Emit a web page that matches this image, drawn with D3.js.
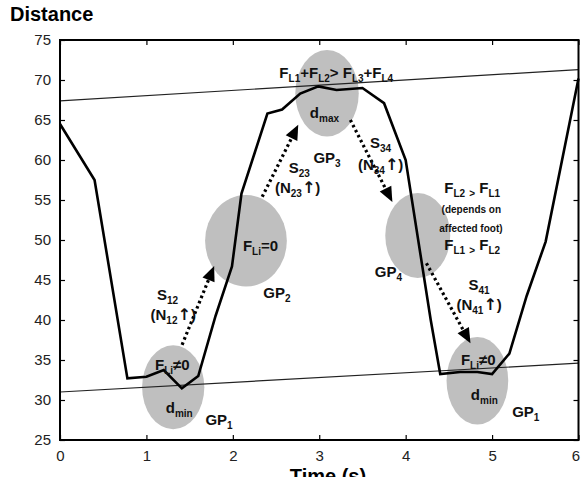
<!DOCTYPE html>
<html>
<head>
<meta charset="utf-8">
<script src="https://cdn.jsdelivr.net/npm/d3@7"></script>
<style>
  body { margin: 0; background: #fff; }
  text { font-family: "Liberation Sans", Arial, sans-serif; }
</style>
</head>
<body>
<svg id="chart" width="581" height="477"></svg>
<script>
// gait curve: distance vs time
const time     = [0, 0.4, 0.78, 1.0, 1.2, 1.41, 1.6, 1.8, 1.99, 2.1, 2.4, 2.57, 2.78, 2.99, 3.2, 3.5, 3.75, 4.0, 4.29, 4.4, 4.63, 4.83, 5.0, 5.2, 5.4, 5.62, 6.0];
const distance = [64.5, 57.5, 32.7, 32.9, 33.75, 31.45, 33.0, 40.5, 46.7, 55.8, 65.8, 66.3, 68.3, 69.2, 68.75, 69.0, 67.1, 60, 40, 33.25, 33.5, 33.5, 33.25, 35.8, 43, 49.8, 70.2];

// thresholds (thin lines)
const upperLine = [[0, 67.4], [6, 71.3]];
const lowerLine = [[0, 31.0], [6, 34.6]];

const xTicks = [0, 1, 2, 3, 4, 5, 6];
const yTicks = [25, 30, 35, 40, 45, 50, 55, 60, 65, 70, 75];

// gait phases: centre (t, d) and radii in data units
const phaseT  = [1.31, 2.152, 3.09, 4.14, 4.83];
const phaseD  = [31.6, 49.9, 68.34, 50.56, 32.4];
const phaseRT = [0.36, 0.473, 0.367, 0.376, 0.357];
const phaseRD = [5.25, 5.72, 5.41, 5.31, 5.47];

// transitions: from (t0,d0) to (t1,d1)
const arrowsFrom = [[1.413, 36.9], [2.34, 55.4], [3.36, 65.0], [4.24, 47.1]];
const arrowsTo   = [[1.784, 46.75], [2.757, 64.4], [3.846, 54.75], [4.75, 37.1]];

// annotations: text with _{sub} markup, anchored at (t, d)
const labelText = ["F_{L1}+F_{L2}> F_{L3}+F_{L4}", "d_{max}", "GP_{3}", "S_{23}", "(N_{23}\u2191)",
  "S_{34}", "(N_{34}\u2191)", "F_{L2} _{>} F_{L1}", "(depends on", "affected foot)", "F_{L1} _{>} F_{L2}",
  "S_{41}", "(N_{41}\u2191)", "GP_{4}", "F_{Li}=0", "GP_{2}", "S_{12}", "(N_{12}\u2191)",
  "F_{Li}\u22600", "d_{min}", "GP_{1}", "F_{Li}\u22600", "d_{min}", "GP_{1}"];
const labelT = [3.197, 3.06, 3.09, 2.77, 2.75, 3.71, 3.71, 4.77, 4.76, 4.755, 4.77,
  4.85, 4.85, 3.8, 2.32, 2.51, 1.245, 1.31, 1.30, 1.38, 1.84, 4.84, 4.91, 5.39];
const labelD = [70.9, 65.9, 60.25, 59, 56.5, 62.1, 59.4, 56.5, 54, 51.6, 49.4,
  44.4, 41.9, 46, 49.2, 43.4, 43.1, 40.6, 34.4, 29, 27.5, 35, 30.6, 28.5];

const svg = d3.select("#chart");
const mLeft = 60, mRight = 578.5, mTop = 40, mBottom = 440;

const x = d3.scaleLinear().domain([0, 6]).range([mLeft, mRight]);
const y = d3.scaleLinear().domain([25, 75]).range([mBottom, mTop]);

// phase ellipses
svg.append("g").selectAll("ellipse")
  .data(phaseT)
  .enter().append("ellipse")
  .attr("cx", (d, i) => x(d))
  .attr("cy", (d, i) => y(phaseD[i]))
  .attr("rx", (d, i) => x(d + phaseRT[i]) - x(d))
  .attr("ry", (d, i) => y(phaseD[i] - phaseRD[i]) - y(phaseD[i]))
  .attr("fill", "#bfbfbf");

// thin threshold lines
const line = d3.line().x(d => x(d[0])).y(d => y(d[1]));
[upperLine, lowerLine].forEach(l => {
  svg.append("path").attr("d", line(l))
    .attr("fill", "none").attr("stroke", "#222").attr("stroke-width", 1.2);
});

// main curve
const pts = time.map((t, i) => [t, distance[i]]);
svg.append("path").attr("d", line(pts))
  .attr("fill", "none").attr("stroke", "#000")
  .attr("stroke-width", 2.6).attr("stroke-linejoin", "miter");

// axes with inward ticks
const tk = 5;
const axG = svg.append("g");
const xAxisG = axG.append("g").attr("transform", `translate(0,${mBottom})`)
  .call(d3.axisBottom(x).tickValues(xTicks).tickFormat(d3.format("d"))
    .tickSizeInner(-tk).tickSizeOuter(0).tickPadding(10));
axG.append("g").attr("transform", `translate(0,${mTop})`)
  .call(d3.axisTop(x).tickValues(xTicks).tickSizeInner(-tk).tickSizeOuter(0).tickFormat(""));
axG.append("g").attr("transform", `translate(${mLeft},0)`)
  .call(d3.axisLeft(y).tickValues(yTicks).tickSizeInner(-tk).tickSizeOuter(0).tickPadding(9));
axG.append("g").attr("transform", `translate(${mRight},0)`)
  .call(d3.axisRight(y).tickValues(yTicks).tickSizeInner(-tk).tickSizeOuter(0).tickFormat(""));
axG.selectAll(".domain").remove();
axG.selectAll(".tick line").attr("stroke", "#000").attr("stroke-width", 1.2);
axG.selectAll(".tick text").attr("font-size", 15).attr("fill", "#222")
  .attr("font-family", "'Liberation Sans', Arial, sans-serif");
// last label sits against the window edge
xAxisG.selectAll(".tick text").filter(d => d === 6).attr("dx", -3);

svg.append("rect")
  .attr("x", mLeft).attr("y", mTop)
  .attr("width", mRight - mLeft).attr("height", mBottom - mTop)
  .attr("fill", "none").attr("stroke", "#000").attr("stroke-width", 2);

// transition arrows (dotted with a solid head)
arrowsFrom.forEach((a, i) => {
  const x0 = x(a[0]), y0 = y(a[1]);
  const x1 = x(arrowsTo[i][0]), y1 = y(arrowsTo[i][1]);
  const ang = Math.atan2(y1 - y0, x1 - x0);
  const hl = 15, hw = 6.5;
  const bx = x1 - hl * Math.cos(ang), by = y1 - hl * Math.sin(ang);
  svg.append("line")
    .attr("x1", x0).attr("y1", y0).attr("x2", bx).attr("y2", by)
    .attr("stroke", "#000").attr("stroke-width", 3.2)
    .attr("stroke-dasharray", "2.6,3");
  const px = -Math.sin(ang), py = Math.cos(ang);
  svg.append("polygon")
    .attr("points", [[x1, y1], [bx + px * hw, by + py * hw], [bx - px * hw, by - py * hw]].map(p => p.join(",")).join(" "))
    .attr("fill", "#000");
});

// annotation text with subscripts
function addLabel(str, px, py) {
  const small = str.startsWith("(depends") || str.startsWith("affected");
  const t = svg.append("text")
    .attr("x", px).attr("y", py)
    .attr("text-anchor", "middle")
    .attr("font-weight", "bold")
    .attr("font-size", small ? 10 : 15)
    .attr("fill", "#111");
  const parts = str.split(/(_\{[^}]*\}|\u2191)/).filter(s => s.length);
  let shifted = false;
  parts.forEach(p => {
    if (p.startsWith("_{")) {
      t.append("tspan").attr("font-size", 10).attr("dy", shifted ? 0 : 4).text(p.slice(2, -1));
      shifted = true;
    } else {
      const sp = t.append("tspan").attr("dy", shifted ? -4 : 0).text(p);
      if (p === "\u2191") sp.attr("font-family", "'DejaVu Sans', sans-serif").attr("font-size", 16);
      shifted = false;
    }
  });
}
labelText.forEach((s, i) => addLabel(s, x(labelT[i]), y(labelD[i]) + 5));

// titles
svg.append("text").attr("x", 10).attr("y", 21)
  .attr("font-size", 20).attr("font-weight", "bold").text("Distance");
svg.append("text").attr("x", 328).attr("y", 483)
  .attr("text-anchor", "middle")
  .attr("font-size", 20).attr("font-weight", "bold").text("Time (s)");
</script>
</body>
</html>
